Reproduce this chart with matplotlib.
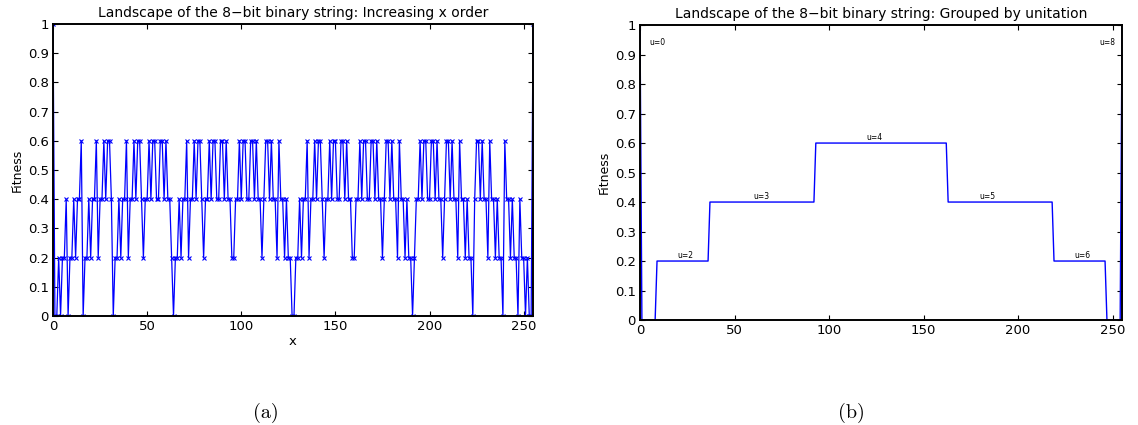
import numpy as np
import matplotlib
matplotlib.use('Agg')
import matplotlib.pyplot as plt

# fitness of every 8-bit string, x = 0..255 (rows of 16)
fitness_by_x = [
    1, 0, 0, .2, 0, .2, .2, .4, 0, .2, .2, .4, .2, .4, .4, .6,
    0, .2, .2, .4, .2, .4, .4, .6, .2, .4, .4, .6, .4, .6, .6, .4,
    0, .2, .2, .4, .2, .4, .4, .6, .2, .4, .4, .6, .4, .6, .6, .4,
    .2, .4, .4, .6, .4, .6, .6, .4, .4, .6, .6, .4, .6, .4, .4, .2,
    0, .2, .2, .4, .2, .4, .4, .6, .2, .4, .4, .6, .4, .6, .6, .4,
    .2, .4, .4, .6, .4, .6, .6, .4, .4, .6, .6, .4, .6, .4, .4, .2,
    .2, .4, .4, .6, .4, .6, .6, .4, .4, .6, .6, .4, .6, .4, .4, .2,
    .4, .6, .6, .4, .6, .4, .4, .2, .6, .4, .4, .2, .4, .2, .2, 0,
    0, .2, .2, .4, .2, .4, .4, .6, .2, .4, .4, .6, .4, .6, .6, .4,
    .2, .4, .4, .6, .4, .6, .6, .4, .4, .6, .6, .4, .6, .4, .4, .2,
    .2, .4, .4, .6, .4, .6, .6, .4, .4, .6, .6, .4, .6, .4, .4, .2,
    .4, .6, .6, .4, .6, .4, .4, .2, .6, .4, .4, .2, .4, .2, .2, 0,
    .2, .4, .4, .6, .4, .6, .6, .4, .4, .6, .6, .4, .6, .4, .4, .2,
    .4, .6, .6, .4, .6, .4, .4, .2, .6, .4, .4, .2, .4, .2, .2, 0,
    .4, .6, .6, .4, .6, .4, .4, .2, .6, .4, .4, .2, .4, .2, .2, 0,
    .6, .4, .4, .2, .4, .2, .2, 0, .4, .2, .2, 0, .2, 0, 0, 1,
]

# grouped by unitation u = 0..8
unit_levels = [1, 0, 0.2, 0.4, 0.6, 0.4, 0.2, 0, 1]
unit_counts = [1, 8, 28, 56, 70, 56, 28, 8, 1]
unit_labels = ['u=0', 'u=2', 'u=3', 'u=4', 'u=5', 'u=6', 'u=8']
label_x = [5, 24, 64, 124, 184, 234, 243]
label_y = [0.94, 0.22, 0.42, 0.62, 0.42, 0.22, 0.94]
label_ha = ['left', 'center', 'center', 'center', 'center', 'center', 'left']

xticks = [0, 50, 100, 150, 200, 250]
yticks = [0, 0.1, 0.2, 0.3, 0.4, 0.5, 0.6, 0.7, 0.8, 0.9, 1]
ytick_labels = ['0', '0.1', '0.2', '0.3', '0.4', '0.5', '0.6', '0.7', '0.8', '0.9', '1']

BLUE = '#0000ff'

plt.rcParams['font.family'] = 'DejaVu Sans'

fig = plt.figure(figsize=(11.38, 4.25), dpi=100)
ax1 = fig.add_axes([0.0466, 0.2565, 0.4218, 0.687])
ax2 = fig.add_axes([0.5624, 0.2470, 0.4236, 0.694])


def style_axes(ax, title):
    ax.set_xlim(0, 255)
    ax.set_ylim(0, 1)
    ax.set_xticks(xticks)
    ax.set_xticklabels([str(t) for t in xticks])
    ax.set_yticks(yticks)
    ax.set_yticklabels(ytick_labels)
    ax.tick_params(direction='in', top=True, right=True, length=3.5,
                   width=0.8, labelsize=9.5, pad=3)
    for s in ax.spines.values():
        s.set_linewidth(1.4)
    ax.set_title(title, fontsize=10, pad=5)
    ax.set_ylabel('Fitness', fontsize=9, labelpad=3)


x = np.arange(len(fitness_by_x))
ax1.plot(x, fitness_by_x, color=BLUE, lw=0.9, marker='x', ms=3.5, mew=0.8)
style_axes(ax1, 'Landscape of the 8\u2212bit binary string: Increasing x order')
ax1.set_xlabel('x', fontsize=9.5, labelpad=1)

grouped = np.repeat(unit_levels, unit_counts)
ax2.plot(np.arange(len(grouped)), grouped, color=BLUE, lw=1.0)
style_axes(ax2, 'Landscape of the 8\u2212bit binary string: Grouped by unitation')
for lab, lx, ly, ha in zip(unit_labels, label_x, label_y, label_ha):
    ax2.text(lx, ly, lab, fontsize=5.5, ha=ha, va='center')

fig.text(266 / 1138, 1 - 413 / 425, '(a)', family='cmr10', fontsize=14.5,
         ha='center', va='center')
fig.text(851 / 1138, 1 - 413 / 425, '(b)', family='cmr10', fontsize=14.5,
         ha='center', va='center')

fig.savefig('out.png', dpi=100)
